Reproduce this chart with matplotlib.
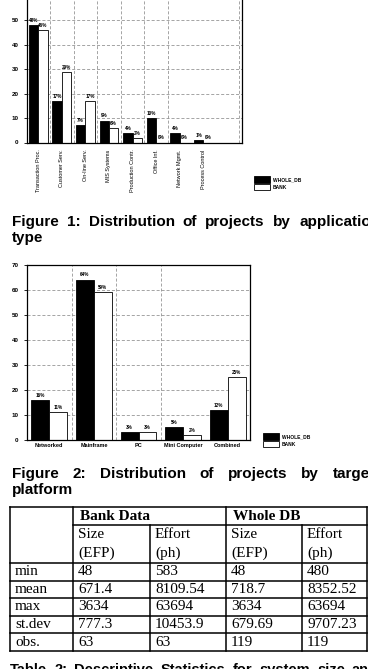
import numpy as np
import matplotlib
matplotlib.use("Agg")
import matplotlib.pyplot as plt
from matplotlib.lines import Line2D

# ---------------- data ----------------
app_types = ["Transaction Proc.", "Customer Serv.", "On-line Serv.", "MIS Systems",
             "Production Contr.", "Office Inf.", "Network Mgmt.", "Process Control"]
app_whole = [48, 17, 7, 9, 4, 10, 4, 1]
app_bank = [46, 29, 17, 6, 2, 0, 0, 0]

platforms = ["Networked", "Mainframe", "PC", "Mini Computer", "Combined"]
plat_whole = [16, 64, 3, 5, 12]
plat_bank = [11, 59, 3, 2, 25]

series_names = ["WHOLE_DB", "BANK"]

table_rows = ["min", "mean", "max", "st.dev", "obs."]
bank_size = ["48", "671.4", "3634", "777.3", "63"]
bank_effort = ["583", "8109.54", "63694", "10453.9", "63"]
whole_size = ["48", "718.7", "3634", "679.69", "119"]
whole_effort = ["480", "8352.52", "63694", "9707.23", "119"]
group_headers = ["Bank Data", "Whole DB"]
sub_headers = [("Size", "(EFP)"), ("Effort", "(ph)"), ("Size", "(EFP)"), ("Effort", "(ph)")]

cap1_words = ["Figure", "1:", "Distribution", "of", "projects", "by", "application"]
cap1_line2 = "type"
cap2_words = ["Figure", "2:", "Distribution", "of", "projects", "by", "target"]
cap2_line2 = "platform"
cap3_words = ["Table", "2:", "Descriptive", "Statistics", "for", "system", "size", "and"]

# ---------------- figure ----------------
W, H = 368, 669
fig = plt.figure(figsize=(W / 100, H / 100), dpi=100)
fig.patch.set_facecolor("white")
SANS = "Liberation Sans"
SERIF = "Liberation Serif"
GRID = "0.55"

def px_axes(left, right, top, bottom):
    return [left / W, 1 - bottom / H, (right - left) / W, (bottom - top) / H]

def style_chart(ax, ylim, yticks, vgrid):
    ax.set_ylim(*ylim)
    ax.set_yticks(yticks)
    ax.set_yticklabels([str(t) for t in yticks], fontsize=4.5, fontweight="bold",
                       family=SANS)
    for t in yticks[1:]:
        ax.axhline(t, color=GRID, lw=0.55, ls=(0, (4, 2.5)), zorder=0)
    for v in vgrid:
        ax.axvline(v, color=GRID, lw=0.55, ls=(0, (4, 2.5)), zorder=0)
    for s in ax.spines.values():
        s.set_linewidth(0.9)
    ax.tick_params(axis="y", length=2, width=0.6, pad=4)
    ax.tick_params(axis="x", length=0)

def label_bars(ax, cont, vals):
    ax.bar_label(cont, labels=[f"{v}%" for v in vals], padding=1.5, fontsize=3.3,
                 fontweight="bold", family=SANS)

# Chart 1 (top of the frame lies above the page edge, as in the scan)
ax1 = fig.add_axes(px_axes(27, 242, -4, 142.5))
x1 = np.arange(len(app_types))
b1 = ax1.bar(x1 - 0.2, app_whole, 0.4, color="black", edgecolor="black", lw=0.6,
             label=series_names[0])
b2 = ax1.bar(x1 + 0.2, app_bank, 0.4, color="white", edgecolor="black", lw=0.6,
             label=series_names[1])
ax1.set_xlim(-0.47, 8.63)
style_chart(ax1, (0, 60), list(range(0, 51, 10)), [0.5, 1.5, 2.5, 3.5, 4.5, 5.5, 8.5])
ax1.axhline(60, color=GRID, lw=0.55, ls=(0, (4, 2.5)), zorder=0)
ax1.set_xticks(x1)
ax1.set_xticklabels(app_types, rotation=90, fontsize=4, family=SANS, va="top", ha="center")
ax1.tick_params(axis="x", pad=5)
label_bars(ax1, b1, app_whole)
label_bars(ax1, b2, app_bank)
fig.legend(handles=[b1, b2], labels=series_names, loc="upper left",
           bbox_to_anchor=(252 / W, 1 - 174 / H), frameon=False,
           prop={"family": SANS, "weight": "bold", "size": 3.5},
           handlelength=3.2, handleheight=1.6, borderpad=0, labelspacing=0.3,
           handletextpad=0.6)

# Chart 2
ax2 = fig.add_axes(px_axes(27, 250, 264.5, 440))
x2 = np.arange(len(platforms))
c1 = ax2.bar(x2 - 0.2, plat_whole, 0.4, color="black", edgecolor="black", lw=0.6,
             label=series_names[0])
c2 = ax2.bar(x2 + 0.2, plat_bank, 0.4, color="white", edgecolor="black", lw=0.6,
             label=series_names[1])
ax2.set_xlim(-0.5, 4.5)
style_chart(ax2, (0, 70), list(range(0, 71, 10)), [0.5, 1.5, 2.5])
ax2.set_xticks(x2)
ax2.set_xticklabels(platforms, fontsize=4, fontweight="bold", family=SANS)
ax2.tick_params(axis="x", pad=2)
label_bars(ax2, c1, plat_whole)
label_bars(ax2, c2, plat_bank)
fig.legend(handles=[c1, c2], labels=series_names, loc="upper left",
           bbox_to_anchor=(261 / W, 1 - 431 / H), frameon=False,
           prop={"family": SANS, "weight": "bold", "size": 3.5},
           handlelength=3.2, handleheight=1.6, borderpad=0, labelspacing=0.3,
           handletextpad=0.6)

# ---------------- overlay for captions & table (pixel coordinates) ----------------
ov = fig.add_axes([0, 0, 1, 1], zorder=-1)
ov.set_xlim(0, W)
ov.set_ylim(H, 0)
ov.axis("off")
renderer = fig.canvas.get_renderer()

def justify(words, x0, x_last, y, **kw):
    texts = [ov.text(0, y, w, va="baseline", ha="left", **kw) for w in words]
    widths = [t.get_window_extent(renderer=renderer).width for t in texts]
    gap = (x_last - x0 - sum(widths[:-1])) / (len(words) - 1)
    x = x0
    for t, w in zip(texts, widths):
        t.set_x(x)
        x += w + gap

cap_kw = dict(family=SANS, fontweight="bold", fontsize=11, color="black")
justify(cap1_words, 12, 299, 226, **cap_kw)
ov.text(12, 242, cap1_line2, va="baseline", ha="left", **cap_kw)
justify(cap2_words, 12, 333, 478, **cap_kw)
ov.text(12, 494, cap2_line2, va="baseline", ha="left", **cap_kw)
cap3_kw = dict(cap_kw, fontsize=10.5)
justify(cap3_words, 10, 352, 674, **cap3_kw)

# table
col_x = [10, 73, 150, 226, 302, 367]
row_y = [507, 525, 563, 580.6, 598.2, 615.8, 633.4, 651]
lw = 1.1
ov.add_line(Line2D([col_x[0], col_x[-1]], [row_y[0]] * 2, color="black", lw=lw))
ov.add_line(Line2D([col_x[1], col_x[-1]], [row_y[1]] * 2, color="black", lw=lw))
for y in row_y[2:]:
    ov.add_line(Line2D([col_x[0], col_x[-1]], [y] * 2, color="black", lw=lw))
for i, x in enumerate(col_x):
    top = row_y[1] if i in (2, 4) else row_y[0]
    ov.add_line(Line2D([x, x], [top, row_y[-1]], color="black", lw=lw))

tkw = dict(family=SERIF, fontsize=11, color="black", va="center", ha="left")
ov.text(col_x[1] + 7, (row_y[0] + row_y[1]) / 2, group_headers[0], fontweight="bold", **tkw)
ov.text(col_x[3] + 7, (row_y[0] + row_y[1]) / 2, group_headers[1], fontweight="bold", **tkw)
for j, (a, b) in enumerate(sub_headers):
    ov.text(col_x[j + 1] + 5, 535, a, **tkw)
    ov.text(col_x[j + 1] + 5, 553, b, **tkw)
cols = [table_rows, bank_size, bank_effort, whole_size, whole_effort]
for j, col in enumerate(cols):
    for i, val in enumerate(col):
        yc = (row_y[2 + i] + row_y[3 + i]) / 2
        ov.text(col_x[j] + 5, yc, val, **tkw)

fig.savefig("out.png", dpi=100)
